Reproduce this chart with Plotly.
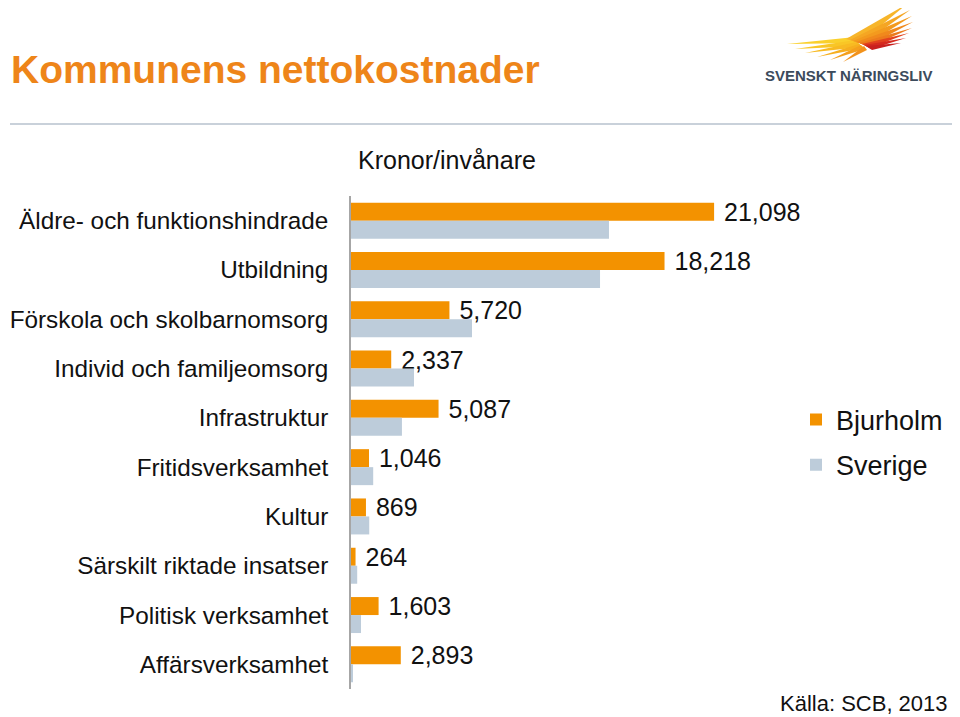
import plotly.graph_objects as go

categories = [
    "Äldre- och funktionshindrade",
    "Utbildning",
    "Förskola och skolbarnomsorg",
    "Individ och familjeomsorg",
    "Infrastruktur",
    "Fritidsverksamhet",
    "Kultur",
    "Särskilt riktade insatser",
    "Politisk verksamhet",
    "Affärsverksamhet",
]
bjurholm = [21098, 18218, 5720, 2337, 5087, 1046, 869, 264, 1603, 2893]
sverige = [14990, 14470, 7030, 3660, 2960, 1290, 1060, 360, 580, 110]

# page body adds an 8px margin; figure laid out so that it lands on reference pixels
OFF = 8
W, H = 960 - OFF, 717 - OFF
L = 351 - OFF
T = 196 - OFF
R = W - (955 - OFF)
B = H - (689 - OFF)
PW = W - L - R
PH = H - T - B
PX_PER_UNIT = 0.01721
XMAX = PW / PX_PER_UNIT

FONT = "Liberation Sans, Arial, sans-serif"
ORANGE = "#F39200"
GRAY = "#BDCCDA"


def px(xr):
    return (xr - OFF - L) / PW


def py(yr):
    return (H - B - (yr - OFF)) / PH


fig = go.Figure()
fig.add_trace(go.Bar(
    y=categories, x=bjurholm, orientation="h", name="Bjurholm",
    marker=dict(color=ORANGE, line=dict(width=0)),
    texttemplate="\u00a0%{x:,}", textposition="outside", constraintext="none",
    cliponaxis=False, textfont=dict(size=25, color="#111111", family=FONT),
    legendgroup="a",
))
fig.add_trace(go.Bar(
    y=categories, x=sverige, orientation="h", name="Sverige",
    marker=dict(color=GRAY, line=dict(width=0)),
    legendgroup="b",
))

shapes = [
    dict(type="line", xref="paper", yref="paper", x0=px(10), x1=px(960),
         y0=py(124), y1=py(124), line=dict(color="#C9D1DA", width=2)),
]


def poly(points, color):
    d = "M " + " L ".join(f"{px(a):.5f},{py(b):.5f}" for a, b in points) + " Z"
    return dict(type="path", xref="paper", yref="paper", path=d,
                fillcolor=color, line=dict(width=0), layer="above")


# decorative logo wing
feathers = [
    ([(787, 44), (855, 37), (860, 43)], "#FAD02C"),
    ([(795, 49), (856, 40), (861, 46)], "#F9C626"),
    ([(805, 53), (857, 42), (862, 47)], "#F8BA22"),
    ([(817, 57), (859, 44), (864, 48)], "#F6AE1E"),
    ([(830, 60), (861, 45), (865, 49)], "#F49F1C"),
    ([(843, 62), (864, 46), (867, 50)], "#F2921B"),
    ([(846, 39), (907, 4), (860, 43)], "#F7B52A"),
    ([(850, 40), (910, 10), (863, 44)], "#F5A623"),
    ([(853, 41), (912, 16), (866, 45)], "#F39A1E"),
    ([(856, 42), (913, 22), (868, 46)], "#F0891C"),
    ([(859, 43), (912, 28), (869, 47)], "#EC7A1C"),
    ([(862, 44), (909, 33), (870, 48)], "#E2421E"),
    ([(864, 45), (906, 38), (871, 49)], "#D52A1F"),
    ([(866, 46), (901, 43), (872, 50)], "#C8201F"),
]
for pts, c in feathers:
    shapes.append(poly(pts, c))

annotations = [
    dict(text="<b>Kommunens nettokostnader</b>", x=px(9), y=py(70), xref="paper", yref="paper",
         xanchor="left", yanchor="middle", showarrow=False,
         font=dict(size=39, color="#EE8519", family=FONT)),
    dict(text="Kronor/invånare", x=px(447), y=py(160), xref="paper", yref="paper",
         xanchor="center", yanchor="middle", showarrow=False,
         font=dict(size=25, color="#111111", family=FONT)),
    dict(text="Källa: SCB, 2013", x=px(950), y=py(703), xref="paper", yref="paper",
         xanchor="right", yanchor="middle", showarrow=False,
         font=dict(size=22, color="#111111", family=FONT)),
    dict(text="<b>SVENSKT NÄRINGSLIV</b>", x=px(849), y=py(75), xref="paper", yref="paper",
         xanchor="center", yanchor="middle", showarrow=False,
         font=dict(size=15, color="#3C4B5C", family=FONT)),
]

fig.update_layout(
    width=W, height=H,
    margin=dict(l=L, r=R, t=T, b=B, pad=0, autoexpand=False),
    paper_bgcolor="white", plot_bgcolor="white",
    barmode="group", bargap=0.27, bargroupgap=0,
    font=dict(family=FONT, color="#111111"),
    xaxis=dict(range=[0, XMAX], showgrid=False, zeroline=False, showticklabels=False,
               showline=False, fixedrange=True, automargin=False),
    yaxis=dict(autorange="reversed", showgrid=False, zeroline=False,
               showline=True, linecolor="#A6A6A6", linewidth=1.5,
               ticks="", ticklabelstandoff=16, automargin=False,
               tickfont=dict(size=24.3, color="#111111", family=FONT)),
    legend=dict(x=px(796), xanchor="left", y=0.5, yanchor="middle",
                font=dict(size=27, color="#111111", family=FONT),
                tracegroupgap=7, bgcolor="rgba(0,0,0,0)"),
    shapes=shapes,
    annotations=annotations,
    showlegend=True,
)

fig.write_html("out.html")
